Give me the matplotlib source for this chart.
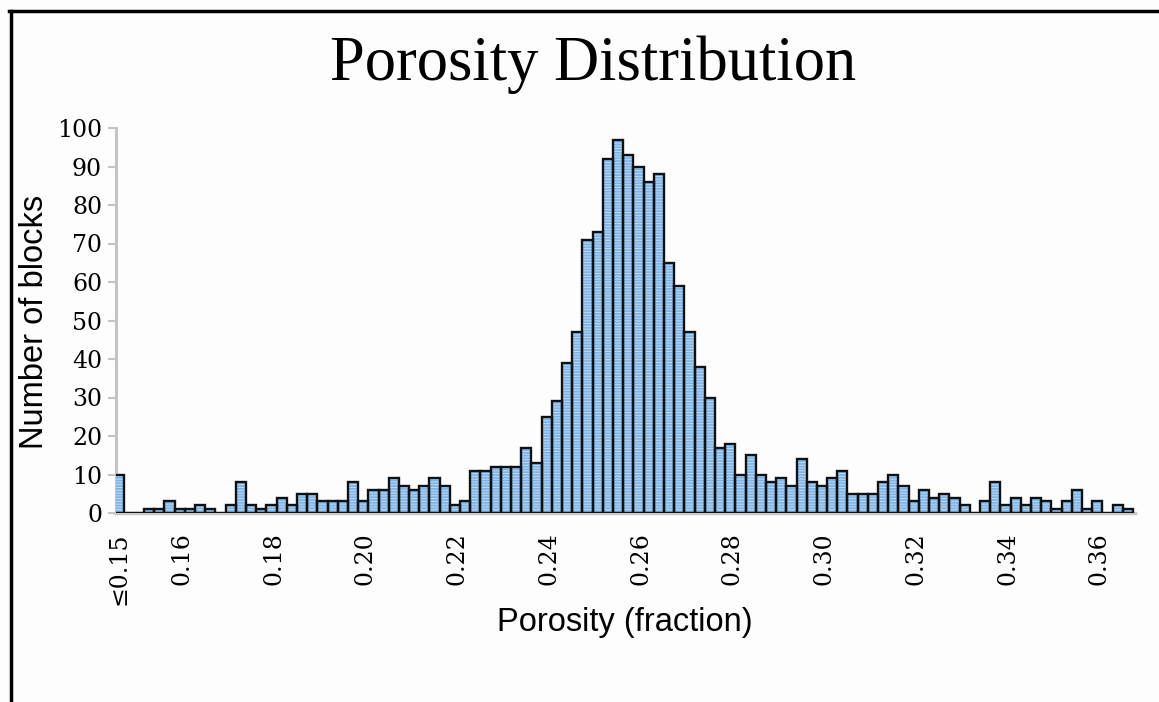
import numpy as np
import matplotlib
matplotlib.use("Agg")
import matplotlib.pyplot as plt
from matplotlib.lines import Line2D

# ---- data ----
counts = [10, 0, 0, 1, 1, 3, 1, 1, 2, 1,
          0, 2, 8, 2, 1, 2, 4, 2, 5, 5,
          3, 3, 3, 8, 3, 6, 6, 9, 7, 6,
          7, 9, 7, 2, 3, 11, 11, 12, 12, 12,
          17, 13, 25, 29, 39, 47, 71, 73, 92, 97,
          93, 90, 86, 88, 65, 59, 47, 38, 30, 17,
          18, 10, 15, 10, 8, 9, 7, 14, 8, 7,
          9, 11, 5, 5, 5, 8, 10, 7, 3, 6,
          4, 5, 4, 2, 0, 3, 8, 2, 4, 2,
          4, 3, 1, 3, 6, 1, 3, 0, 2, 1]
bin_width = 0.02 / 9
first_center = 0.16 - 6.2 * bin_width
tick_values = [0.16, 0.18, 0.20, 0.22, 0.24, 0.26, 0.28, 0.30, 0.32, 0.34, 0.36]
tick_labels = ["0.16", "0.18", "0.20", "0.22", "0.24", "0.26", "0.28",
               "0.30", "0.32", "0.34", "0.36"]
first_label = "≤0.15"
y_ticks = [0, 10, 20, 30, 40, 50, 60, 70, 80, 90, 100]

title = "Porosity Distribution"
xlabel = "Porosity (fraction)"
ylabel = "Number of blocks"

# ---- figure ----
W, H = 1159, 702
fig = plt.figure(figsize=(W / 100, H / 100), dpi=100, facecolor="#fdfdfd")
ax = fig.add_axes([116 / W, 1 - 513 / H, (1135 - 116) / W, (513 - 128) / H])
ax.set_facecolor("#fdfdfd")

centers = first_center + np.arange(len(counts)) * bin_width

# fill with fine horizontal stripes
plt.rcParams["hatch.linewidth"] = 0.7
ax.bar(centers, counts, width=bin_width, color="#7db5e8", edgecolor="#bcdaf5",
       hatch="------", linewidth=0, zorder=2)
# black outlines
ax.bar(centers, counts, width=bin_width, fill=False, edgecolor="#111111",
       linewidth=1.7, zorder=3)

ax.set_xlim(first_center - 0.25 * bin_width, first_center + 99.7 * bin_width)
ax.set_ylim(0, 100)

serif = ["DejaVu Serif", "DejaVu Sans"]
ax.set_yticks(y_ticks)
ax.set_yticklabels([str(v) for v in y_ticks], family=serif, fontsize=17)
ax.set_xticks([centers[0]] + tick_values)
ax.set_xticklabels([first_label] + tick_labels, family=serif, fontsize=17,
                   rotation=90)

ax.tick_params(axis="y", length=6, width=1.5, color="#c4c4c4", pad=4)
ax.tick_params(axis="x", length=0, pad=14)

for s in ("top", "right"):
    ax.spines[s].set_visible(False)
ax.spines["left"].set_color("#c4c4c4")
ax.spines["left"].set_linewidth(2.2)
ax.spines["left"].set_zorder(1)
ax.spines["bottom"].set_color("#c8c8c8")
ax.spines["bottom"].set_linewidth(2.5)
ax.spines["bottom"].set_zorder(1)

fig.text(593 / W, 1 - 65 / H, title, family="Liberation Serif", fontsize=45,
         ha="center", va="center")
fig.text(625 / W, 1 - 622 / H, xlabel, family="Liberation Sans", fontsize=23.5,
         ha="center", va="center")
fig.text(35 / W, 1 - 322 / H, ylabel, family="Liberation Sans", fontsize=23.5,
         ha="center", va="center", rotation=90)

# black frame (left and top edges)
fig.add_artist(Line2D([10.5 / W, 10.5 / W], [0, 1 - 10.5 / H], color="black",
                      linewidth=2.5, transform=fig.transFigure))
fig.add_artist(Line2D([9 / W, 1], [1 - 10.5 / H, 1 - 10.5 / H], color="black",
                      linewidth=2.5, transform=fig.transFigure))

fig.savefig("out.png", dpi=100, facecolor=fig.get_facecolor())
